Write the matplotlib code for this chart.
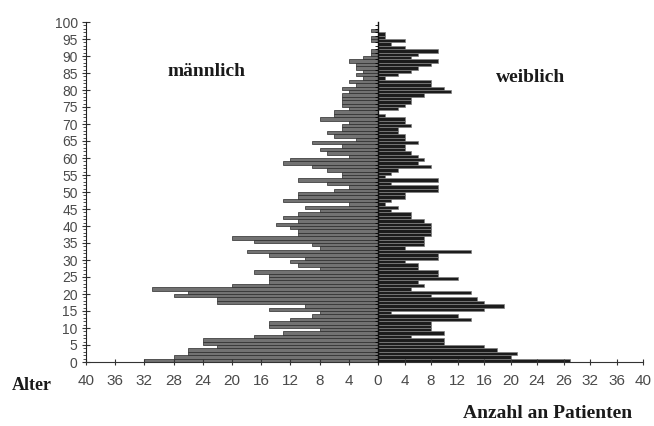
import matplotlib
matplotlib.use("Agg")
import matplotlib.pyplot as plt
import numpy as np

# Ages 0..99
ages = list(range(100))

maennlich = [32, 28, 26, 26, 22, 24, 24, 17, 13, 8,
             15, 15, 12, 9, 8, 15, 10, 22, 22, 28,
             26, 31, 20, 15, 15, 15, 17, 8, 11, 12,
             10, 15, 18, 8, 9, 17, 20, 11, 11, 12,
             14, 11, 13, 11, 8, 10, 4, 13, 11, 11,
             6, 4, 7, 11, 5, 5, 7, 9, 13, 12,
             4, 7, 8, 5, 9, 3, 6, 7, 5, 5,
             4, 8, 6, 6, 4, 5, 5, 5, 5, 4,
             5, 3, 4, 2, 3, 2, 3, 3, 4, 2,
             1, 1, 0, 0, 1, 1, 0, 1, 0, 0]

weiblich = [29, 20, 21, 18, 16, 10, 10, 5, 10, 8,
            8, 8, 14, 12, 2, 16, 19, 16, 15, 8,
            14, 5, 7, 6, 12, 9, 9, 6, 6, 4,
            9, 9, 14, 4, 7, 7, 7, 8, 8, 8,
            8, 7, 5, 5, 2, 3, 1, 2, 4, 4,
            9, 9, 2, 9, 1, 2, 3, 8, 6, 7,
            6, 5, 4, 4, 6, 4, 4, 3, 3, 5,
            4, 4, 1, 0, 3, 4, 5, 5, 7, 11,
            10, 8, 8, 1, 3, 5, 6, 8, 9, 5,
            6, 9, 4, 2, 4, 1, 1, 0, 0, 0]

x_ticks_left = [4, 8, 12, 16, 20, 24, 28, 32, 36, 40]
x_labels_left = ["4", "8", "12", "16", "20", "24", "28", "32", "36", "40"]
x_ticks_right = [0, 4, 8, 12, 16, 20, 24, 28, 32, 36, 40]
x_labels_right = ["0", "4", "8", "12", "16", "20", "24", "26", "32", "36", "40"]
y_ticks = list(range(0, 101, 5))

W, H = 654, 426
fig = plt.figure(figsize=(W / 100, H / 100), dpi=100)

bottom = (H - 362) / H
height = (362 - 22) / H
axL = fig.add_axes([86 / W, bottom, (378 - 86) / W, height])
axR = fig.add_axes([378 / W, bottom, (643 - 378) / W, height], sharey=axL)

yc = np.array(ages) + 0.5
axL.barh(yc, maennlich, height=1.0, color="#727272", edgecolor="#2a2a2a", linewidth=0.5)
axR.barh(yc, weiblich, height=1.0, color="#1c1c1c", edgecolor="#808080", linewidth=0.5)

tick_col = "#4a4a4a"
axL.set_xlim(40, 0)
axR.set_xlim(0, 40)
axL.set_ylim(0, 100)

for ax in (axL, axR):
    ax.spines["top"].set_visible(False)
    ax.spines["right"].set_visible(False)
    ax.spines["bottom"].set_color("#333333")
    ax.spines["left"].set_color("#222222")
    ax.spines["bottom"].set_linewidth(0.8)
    ax.set_facecolor("none")

axL.set_xticks(x_ticks_left)
axL.set_xticklabels(x_labels_left)
axR.set_xticks(x_ticks_right)
axR.set_xticklabels(x_labels_right)
for ax in (axL, axR):
    ax.tick_params(axis="x", direction="inout", length=5, width=0.8, colors="#333333",
                   labelcolor=tick_col, labelsize=11, pad=6)
    for lab in ax.get_xticklabels():
        lab.set_fontfamily("Liberation Sans")

axL.set_yticks(y_ticks)
axL.set_yticklabels([str(v) for v in y_ticks])
axL.set_yticks(np.arange(0, 101, 1), minor=True)
axL.tick_params(axis="y", which="major", direction="inout", length=6, width=0.8,
                colors="#333333", labelcolor=tick_col, labelsize=10, pad=3)
axL.tick_params(axis="y", which="minor", direction="out", length=2, width=0.6, colors="#333333")
for lab in axL.get_yticklabels():
    lab.set_fontfamily("Liberation Sans")

axR.tick_params(axis="y", left=False, labelleft=False)
axR.spines["left"].set_color("#111111")
axR.spines["left"].set_linewidth(1.0)
axR.spines["left"].set_zorder(5)

serif = "Liberation Serif"
fig.text(207 / W, 1 - 72 / H, "männlich", fontfamily=serif, fontweight="bold",
         fontsize=14, ha="center", va="center", color="#1a1a1a")
fig.text(531 / W, 1 - 78 / H, "weiblich", fontfamily=serif, fontweight="bold",
         fontsize=14, ha="center", va="center", color="#1a1a1a")
fig.text(32 / W, 1 - 385 / H, "Alter", fontfamily=serif, fontweight="bold",
         fontsize=13, ha="center", va="center", color="#1a1a1a")
fig.text(548 / W, 1 - 414 / H, "Anzahl an Patienten", fontfamily=serif, fontweight="bold",
         fontsize=14, ha="center", va="center", color="#1a1a1a")

fig.savefig("out.png", dpi=100)
